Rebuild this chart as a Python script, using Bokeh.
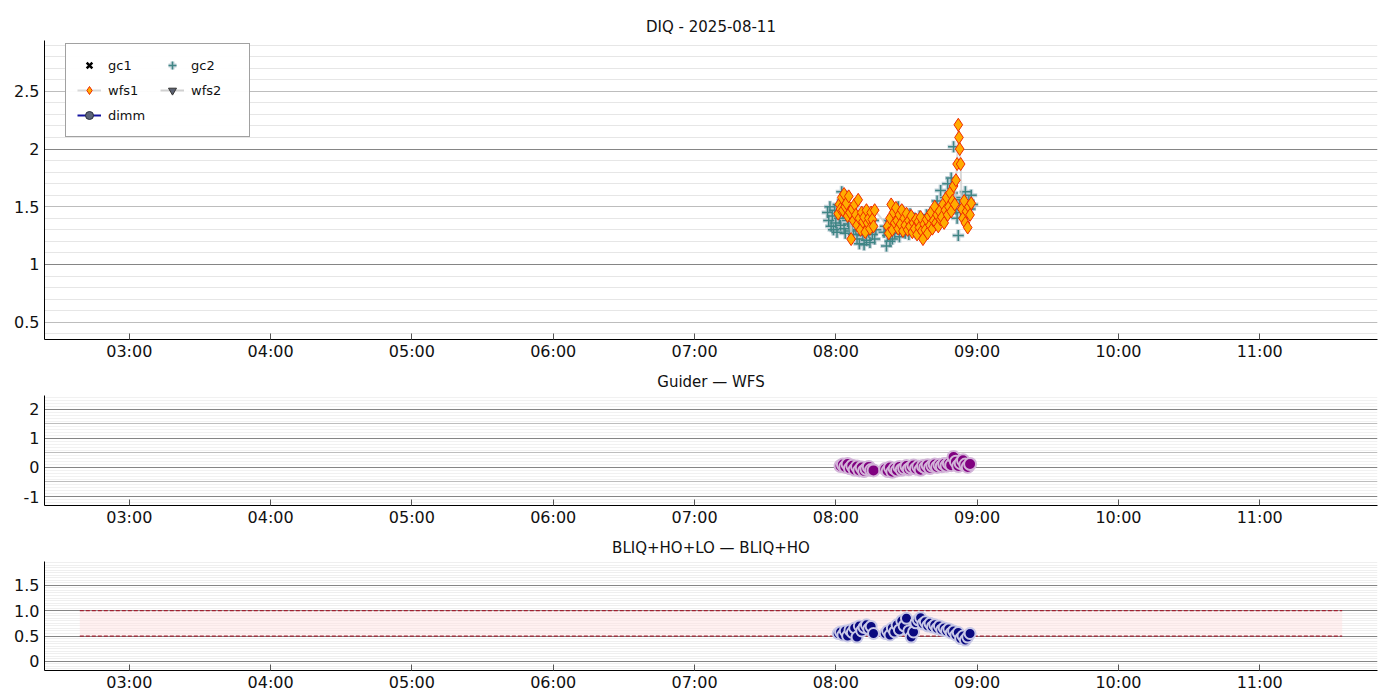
from datetime import datetime, timedelta

from bokeh.embed import file_html
from bokeh.layouts import column
from bokeh.models import (ColumnDataSource, DatetimeTickFormatter, FixedTicker,
                          Grid, Legend, LegendItem, Range1d)
from bokeh.plotting import figure
from bokeh.resources import INLINE

# ---------------------------------------------------------------- data
DATE = (2025, 8, 11)
TITLES = ["DIQ - 2025-08-11", "Guider \u2014 WFS", "BLIQ+HO+LO \u2014 BLIQ+HO"]
X_START, X_END = "02:24", "11:50"
BAND_START, BAND_END = "02:39", "11:35"
BAND_LOW, BAND_HIGH = 0.5, 1.0
HOUR_TICKS = ["03:00", "04:00", "05:00", "06:00", "07:00", "08:00", "09:00", "10:00", "11:00"]
BASE_TIME = "08:00"
NAN = float("nan")

# minutes after 08:00
wfs1_min = [1.0, 1.5, 2.0, 2.5, 3.0, 3.5, 4.0, 4.5, 5.0, 5.5, 6.0, 6.5, 7.0, 7.5, 8.0, 8.5,
            9.0, 9.5, 10.0, 10.5, 11.0, 11.5, 12.0, 12.5, 13.0, 13.5, 14.0, 14.5, 15.0, 15.5,
            16.0, 16.5,
            22.0, 22.5, 23.0, 23.5, 24.0, 24.5, 25.0, 25.5, 26.0, 26.5, 27.0, 27.5, 28.0, 28.5,
            29.0, 29.5, 30.0, 30.5, 31.0, 31.5, 32.0, 32.5, 33.0, 33.5, 34.0, 34.5, 35.0, 35.5,
            36.0, 36.5, 37.0, 37.5, 38.0, 38.5, 39.0, 39.5, 40.0, 40.5, 41.0, 41.5, 42.0, 42.5,
            43.0, 43.5, 44.0, 44.5, 45.0, 45.5, 46.0, 46.5, 47.0, 47.5, 48.0, 48.5, 49.0, 49.5,
            50.0, 50.5, 51.0, 51.5, 52.0, 52.3, 52.6, 53.0, 53.5, 54.0, 54.5, 55.0, 55.5, 56.0,
            56.5, 57.0, 57.5]
wfs1_val = [1.44, 1.52, 1.48, 1.58, 1.47, 1.61, 1.50, 1.53, 1.42, 1.59, 1.45, 1.22, 1.48, 1.38,
            1.52, 1.43, 1.34, 1.56, 1.40, 1.30, 1.45, 1.37, 1.41, 1.28, 1.47, 1.36, 1.40, 1.31,
            1.45, 1.39, 1.33, 1.47,
            1.33, 1.27, 1.40, 1.52, 1.30, 1.45, 1.36, 1.49, 1.38, 1.31, 1.43, 1.35, 1.47, 1.29,
            1.40, 1.34, 1.44, 1.30, 1.38, 1.33, 1.42, 1.28, 1.36, 1.31, 1.39, 1.26, 1.37, 1.32,
            1.41, 1.29, 1.22, 1.35, 1.30, 1.39, 1.27, 1.42, 1.34, 1.45, 1.31, 1.38, 1.50, 1.36,
            1.43, 1.33, 1.46, 1.39, 1.41, 1.52, 1.36, 1.47, 1.58, 1.43, 1.50, 1.62, 1.46, 1.55,
            1.68, 1.52, 1.73, 1.87, 2.21, 2.10, 2.00, 1.87, 1.48, 1.40, 1.55, 1.36, 1.46, 1.32,
            1.50, 1.43, 1.53]

gc2_min = [-3.5, -3.0, -2.5, -2.0, -1.5, -1.0, -0.5, 0.0, 0.5, 1.0, 1.5, 2.0, 2.5, 3.0, 3.5,
           4.0, 4.5, 5.0, 5.5, 6.0, 6.5, 7.0, 7.5, 8.0, 8.5, 9.0, 9.5, 10.0, 10.5, 11.0, 11.5,
           12.0, 12.5, 13.0, 13.5, 14.0, 14.5, 15.0, 15.5, 16.0, 16.5, 17.0,
           20.5, 21.0, 21.5, 22.0, 22.5, 23.0, 23.5, 24.0, 24.5, 25.0, 25.5, 26.0, 26.5, 27.0,
           27.5, 28.0, 28.5, 29.0, 29.5, 30.0, 30.5, 31.0, 31.5, 32.0, 32.5, 33.0, 33.5, 34.0,
           34.5, 35.0, 35.5, 36.0, 36.5, 37.0, 37.5, 38.0, 38.5, 39.0, 39.5, 40.0, 40.5, 41.0,
           41.5, 42.0, 42.5, 43.0, 43.5, 44.0, 44.5, 45.0, 45.5, 46.0, 46.5, 47.0, 47.5, 48.0,
           48.5, 49.0, 49.5, 50.0, 50.5, 51.0, 51.5, 52.0, 52.5, 53.0, 53.5, 54.0, 54.5, 55.0,
           55.5, 56.0, 56.5, 57.0, 57.5, 58.0]
gc2_val = [1.45, 1.38, 1.50, 1.33, 1.42, 1.30, 1.47, 1.36, 1.28, 1.52, 1.40, 1.34, 1.63, 1.45,
           1.31, 1.27, 1.48, 1.38, 1.35, 1.29, 1.42, 1.33, 1.26, 1.45, 1.30, 1.22, 1.37, 1.18,
           1.32, 1.40, 1.25, 1.17, 1.35, 1.21, 1.42, 1.28, 1.19, 1.33, 1.26, 1.38, 1.22, 1.30,
           1.28, 1.33, 1.16, 1.25, 1.38, 1.20, 1.30, 1.22, 1.35, 1.27, 1.45, 1.31, 1.50, 1.24,
           1.36, 1.29, 1.42, 1.33, 1.27, 1.38, 1.31, 1.26, 1.44, 1.35, 1.29, 1.40, 1.32, 1.27,
           1.36, 1.30, 1.42, 1.34, 1.26, 1.31, 1.38, 1.29, 1.43, 1.35, 1.30, 1.40, 1.33, 1.45,
           1.37, 1.49, 1.39, 1.55, 1.41, 1.47, 1.64, 1.38, 1.52, 1.44, 1.58, 1.49, 1.70, 1.55,
           1.45, 1.75, 1.62, 2.02, 1.56, 1.48, 1.40, 1.25, 1.52, 1.45, 1.58, 1.47, 1.40, 1.63,
           1.50, 1.44, 1.55, 1.48, 1.60, 1.52]

# series with no valid samples tonight
gc1_min, gc1_val = [0.0], [NAN]
wfs2_min, wfs2_val = [0.0], [NAN]
dimm_min, dimm_val = [0.0], [NAN]

diff_min = [2, 3, 4, 5, 6, 7, 8, 9, 10, 11, 12, 13, 14, 15, 16,
            21, 22, 23, 24, 25, 26, 27, 28, 29, 30, 31, 32, 33, 34, 35, 36, 37, 38, 39, 40,
            41, 42, 43, 44, 45, 46, 47, 48, 49, 50, 51, 52, 53, 54, 55, 56, 57]
diff_val = [0.05, 0.10, 0.02, 0.12, -0.03, 0.06, -0.08, 0.03, -0.10, 0.00, -0.12, -0.05, 0.02,
            -0.09, -0.10,
            -0.05, -0.12, 0.00, -0.15, -0.04, -0.10, 0.02, -0.08, -0.03, 0.05, -0.06, 0.00,
            0.07, -0.04, 0.03, -0.08, 0.05, 0.00, 0.08, -0.02, 0.06, 0.10, 0.02, 0.09, 0.04,
            0.12, 0.06, 0.14, 0.08, 0.36, 0.20, 0.05, 0.15, 0.25, 0.10, 0.02, 0.12]

bliq_min = [1, 2, 3, 4, 5, 6, 7, 8, 9, 10, 11, 12, 13, 14, 15, 16,
            21, 22, 23, 24, 25, 26, 27, 28, 29, 30, 31, 32, 33, 34, 35, 36, 37, 38, 39, 40,
            41, 42, 43, 44, 45, 46, 47, 48, 49, 50, 51, 52, 53, 54, 55, 56, 57]
bliq_val = [0.55, 0.58, 0.52, 0.60, 0.50, 0.62, 0.57, 0.66, 0.48, 0.70, 0.60, 0.67, 0.72, 0.64,
            0.69, 0.55,
            0.55, 0.60, 0.52, 0.66, 0.58, 0.72, 0.62, 0.80, 0.70, 0.85, 0.60, 0.48, 0.58, 0.76,
            0.82, 0.86, 0.74, 0.78, 0.70, 0.75, 0.68, 0.72, 0.65, 0.70, 0.62, 0.66, 0.60, 0.64,
            0.56, 0.60, 0.52, 0.57, 0.45, 0.50, 0.42, 0.48, 0.55]

TOP_TICKS = [0.5, 1.0, 1.5, 2.0, 2.5]
TOP_LABELS = ["0.5", "1", "1.5", "2", "2.5"]
MID_TICKS = [-1, 0, 1, 2]
MID_LABELS = ["-1", "0", "1", "2"]
BOT_TICKS = [0.0, 0.5, 1.0, 1.5]
BOT_LABELS = ["0", "0.5", "1.0", "1.5"]

# ---------------------------------------------------------------- helpers
EPOCH = datetime(1970, 1, 1)


def hm(s):
    h, m = s.split(":")
    return datetime(*DATE, int(h), int(m))


def ms(dt):
    return (dt - EPOCH).total_seconds() * 1000.0


base = hm(BASE_TIME)


def times(mins):
    return [base + timedelta(minutes=m) for m in mins]


FONT = "DejaVu Sans"
FW = 1333


def make_fig(title, frame_h, y0, y1, ticks, labels, minor_step, minor_color, mid_lines,
             dark_lines, top_border):
    p = figure(x_axis_type="datetime", output_backend="svg", toolbar_location=None,
               frame_width=FW, frame_height=frame_h,
               x_range=Range1d(hm(X_START), hm(X_END)), y_range=Range1d(y0, y1),
               min_border_left=44, min_border_right=15, min_border_top=top_border,
               min_border_bottom=26, title=title)
    p.title.align = "center"
    p.title.text_font = FONT
    p.title.text_font_size = "15px"
    p.title.text_font_style = "normal"
    p.title.text_color = "#111111"
    p.outline_line_color = None
    p.xgrid.grid_line_color = None

    nminor = int(round((y1 - y0) / minor_step)) + 2
    first = int(y0 / minor_step) - 1
    minor = [round((first + i) * minor_step, 4) for i in range(nminor)]
    p.ygrid.ticker = FixedTicker(ticks=mid_lines, minor_ticks=minor)
    p.ygrid.grid_line_color = "#bdbdbd"
    p.ygrid.minor_grid_line_color = minor_color
    dark = Grid(dimension=1, ticker=FixedTicker(ticks=dark_lines), grid_line_color="#858585")
    p.add_layout(dark)

    p.yaxis.ticker = FixedTicker(ticks=ticks)
    p.yaxis.major_label_overrides = {t: l for t, l in zip(ticks, labels)}
    p.xaxis.ticker = FixedTicker(ticks=[ms(hm(t)) for t in HOUR_TICKS])
    p.xaxis.formatter = DatetimeTickFormatter(hours="%H:%M", minutes="%H:%M", days="%H:%M")
    for ax in (p.xaxis[0], p.yaxis[0]):
        ax.major_label_text_font = FONT
        ax.major_label_text_font_size = "16px"
        ax.major_label_text_color = "#111111"
        ax.axis_line_color = "black"
        ax.major_tick_in = 6
        ax.major_tick_out = 0
        ax.minor_tick_line_color = None
        ax.major_tick_line_color = "#555555"
    p.xaxis.major_label_standoff = 2
    p.yaxis.major_tick_line_color = None
    return p


# ---------------------------------------------------------------- panel 1
p1 = make_fig(TITLES[0], 299, 0.35, 2.94, TOP_TICKS, TOP_LABELS, 0.1, "#e6e6e6",
              [0.5, 1.5, 2.5], [1.0, 2.0], 40)

src_gc2 = ColumnDataSource(dict(t=times(gc2_min), v=gc2_val))
src_wfs1 = ColumnDataSource(dict(t=times(wfs1_min), v=wfs1_val))
src_gc1 = ColumnDataSource(dict(t=times(gc1_min), v=gc1_val))
src_wfs2 = ColumnDataSource(dict(t=times(wfs2_min), v=wfs2_val))
src_dimm = ColumnDataSource(dict(t=times(dimm_min), v=dimm_val))

r_gc1 = p1.scatter("t", "v", source=src_gc1, marker="x", size=7, line_color="black",
                   line_width=2.5)
r_gc2_halo = p1.scatter("t", "v", source=src_gc2, marker="cross", size=12,
                        line_color="#a9bfc9", line_width=4, line_alpha=0.7)
r_gc2 = p1.scatter("t", "v", source=src_gc2, marker="cross", size=11, line_color="#3f8585",
                   line_width=1.5)
r_wfs1_line = p1.line("t", "v", source=src_wfs1, line_color="#cfcfcf", line_width=2,
                      line_alpha=0.8)
r_wfs1 = p1.scatter("t", "v", source=src_wfs1, marker="diamond", size=13,
                    fill_color="#ffac00", line_color="#f02a00", line_width=1)
r_wfs2_line = p1.line("t", "v", source=src_wfs2, line_color="#d0d0d0", line_width=2)
r_wfs2 = p1.scatter("t", "v", source=src_wfs2, marker="inverted_triangle", size=10,
                    fill_color="#5a6070", line_color="#333333")
r_dimm_line = p1.line("t", "v", source=src_dimm, line_color="#1414a0", line_width=2)
r_dimm = p1.scatter("t", "v", source=src_dimm, marker="circle", size=10,
                    fill_color="#5b6478", line_color="#2a2f40")

legend = Legend(items=[
    LegendItem(label="gc1", renderers=[r_gc1]),
    LegendItem(label="wfs1", renderers=[r_wfs1_line, r_wfs1]),
    LegendItem(label="dimm", renderers=[r_dimm_line, r_dimm]),
    LegendItem(label="gc2", renderers=[r_gc2_halo, r_gc2]),
    LegendItem(label="wfs2", renderers=[r_wfs2_line, r_wfs2]),
], location=(21, 202), ncols=2)
legend.label_text_font = FONT
legend.label_text_font_size = "13px"
legend.label_text_color = "#111111"
legend.border_line_color = "#444444"
legend.border_line_width = 1
legend.padding = 11
legend.spacing = 5
legend.glyph_width = 24
legend.glyph_height = 20
legend.label_height = 20
legend.label_width = 47
legend.label_standoff = 7
legend.margin = 0
p1.add_layout(legend, "center")

# ---------------------------------------------------------------- panel 2
p2 = make_fig(TITLES[1], 110, -1.31, 2.48, MID_TICKS, MID_LABELS, 0.1, "#f1f1f1",
              [-0.5, 0.5, 1.5], [-1, 0, 1, 2], 30)
src_diff = ColumnDataSource(dict(t=times(diff_min), v=diff_val))
p2.scatter("t", "v", source=src_diff, marker="circle", size=12, fill_color="#800080",
           line_color="#d2b4d8", line_width=2)

# ---------------------------------------------------------------- panel 3
p3 = make_fig(TITLES[2], 109, -0.18, 1.97, BOT_TICKS, BOT_LABELS, 0.05, "#efefef",
              [], [0.0, 0.5, 1.0, 1.5], 30)
band = ColumnDataSource(dict(left=[hm(BAND_START)], right=[hm(BAND_END)],
                             bottom=[BAND_LOW], top=[BAND_HIGH]))
p3.quad(left="left", right="right", bottom="bottom", top="top", source=band,
        fill_color="#ffe2e2", fill_alpha=0.5, line_color=None)
lim = ColumnDataSource(dict(x0=[hm(BAND_START)] * 2, x1=[hm(BAND_END)] * 2,
                            y=[BAND_LOW, BAND_HIGH]))
p3.segment(x0="x0", y0="y", x1="x1", y1="y", source=lim, line_color="#a02030",
           line_dash="4 2", line_width=1.2)
src_bliq = ColumnDataSource(dict(t=times(bliq_min), v=bliq_val))
p3.scatter("t", "v", source=src_bliq, marker="circle", size=11, fill_color="#0a0a80",
           line_color="#c8c8e6", line_width=2)

layout = column(p1, p2, p3, spacing=0)
open("out.html", "w").write(file_html(layout, INLINE))
